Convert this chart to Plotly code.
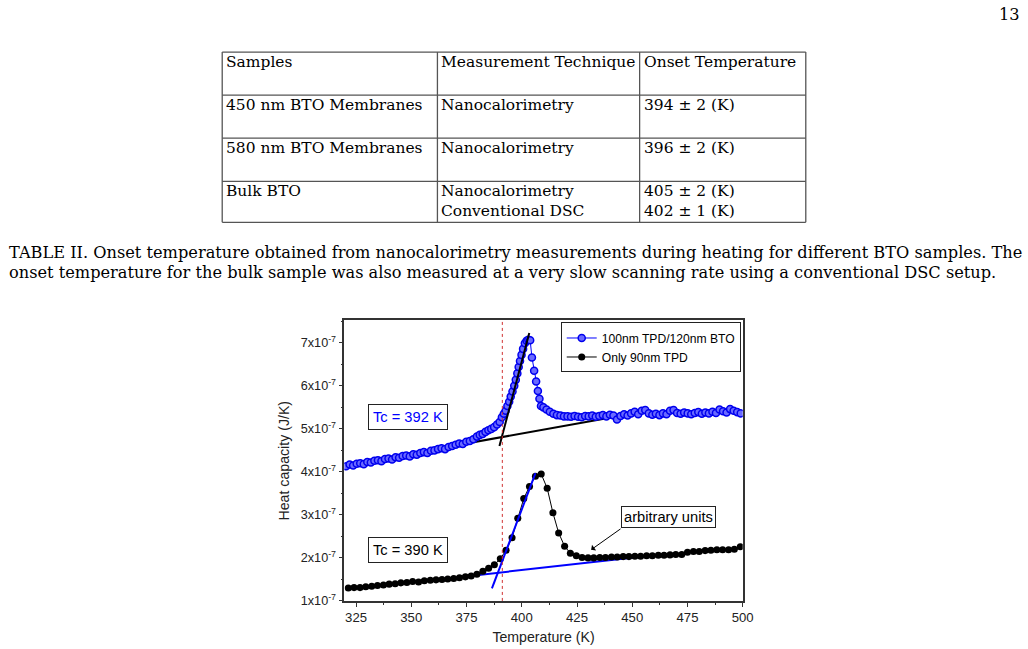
import plotly.graph_objects as go

# ---------------- data ----------------
table_header = ["Samples", "Measurement Technique", "Onset Temperature"]
table_samples = ["450 nm BTO Membranes", "580 nm BTO Membranes", "Bulk BTO"]
table_technique = ["Nanocalorimetry", "Nanocalorimetry", "Nanocalorimetry<br>Conventional DSC"]
table_onset = ["394 ± 2 (K)", "396 ± 2 (K)", "405 ± 2 (K)<br>402 ± 1 (K)"]

caption_line1 = ("TABLE II. Onset temperature obtained from nanocalorimetry measurements during heating "
                 "for different BTO samples. The")
caption_line2 = ("onset temperature for the bulk sample was also measured at a very slow scanning rate "
                 "using a conventional DSC setup.")
page_number = "13"

# 100nm TPD/120nm BTO  (heat capacity in units of 1e-7 J/K)
bto_T = [320.5, 322.1, 323.7, 325.3, 326.9, 328.5, 330.1, 331.7, 333.3, 334.9, 336.5, 338.1,
         339.7, 341.3, 342.9, 344.5, 346.1, 347.7, 349.3, 350.9, 352.5, 354.1, 355.7, 357.3,
         358.9, 360.5, 362.1, 363.7, 365.3, 366.9, 368.5, 370.1, 371.7, 373.3, 374.9, 376.5,
         378.1, 379.7, 381.0, 382.3, 383.6, 384.9, 386.2, 387.5, 388.8, 390.0, 391.0, 391.9,
         392.7, 393.5, 394.3, 395.0, 395.8, 396.6, 397.3, 398.0, 398.6, 399.2, 399.9, 400.6,
         401.4, 402.2, 403.0, 403.8, 404.6, 405.6, 406.5, 407.3, 408.0, 408.7, 409.8, 411.2,
         412.7, 414.3, 415.9, 417.5, 419.1, 420.7, 422.3, 423.9, 425.5, 427.1, 428.7, 430.3,
         431.9, 433.5, 435.1, 436.7, 438.3, 439.9, 441.5, 443.1, 444.7, 446.3, 447.9, 449.5,
         451.1, 452.7, 454.3, 455.9, 457.5, 459.1, 460.7, 462.3, 463.9, 465.5, 467.1, 468.7,
         470.3, 471.9, 473.5, 475.1, 476.7, 478.3, 479.9, 481.5, 483.1, 484.7, 486.3, 487.9,
         489.5, 491.1, 492.7, 494.3, 495.9, 497.5, 499.1]
bto_C = [4.13, 4.17, 4.15, 4.19, 4.20, 4.18, 4.23, 4.22, 4.26, 4.27, 4.25, 4.30,
         4.31, 4.29, 4.34, 4.33, 4.37, 4.38, 4.36, 4.41, 4.40, 4.44, 4.46, 4.44,
         4.49, 4.50, 4.53, 4.55, 4.53, 4.58, 4.60, 4.63, 4.66, 4.65, 4.70, 4.72,
         4.76, 4.82, 4.86, 4.88, 4.93, 4.97, 5.00, 5.04, 5.10, 5.16, 5.27, 5.35,
         5.42, 5.53, 5.63, 5.75, 5.87, 6.00, 6.14, 6.29, 6.44, 6.58, 6.72, 6.86,
         6.99, 7.05, 7.07, 7.06, 6.66, 6.35, 6.10, 5.88, 5.70, 5.53, 5.50, 5.45,
         5.40, 5.35, 5.32, 5.31, 5.29, 5.29, 5.28, 5.30, 5.28, 5.27, 5.30, 5.29,
         5.31, 5.28, 5.30, 5.32, 5.29, 5.33, 5.31, 5.22, 5.30, 5.34, 5.31, 5.36,
         5.40, 5.34, 5.42, 5.44, 5.36, 5.33, 5.35, 5.32, 5.36, 5.34, 5.42, 5.44,
         5.37, 5.35, 5.38, 5.36, 5.34, 5.37, 5.39, 5.35, 5.38, 5.36, 5.40, 5.37,
         5.45, 5.41, 5.38, 5.46, 5.42, 5.39, 5.36]

# Only 90nm TPD (units of 1e-7 J/K)
tpd_T = [321.5, 324.1, 326.8, 329.4, 332.1, 334.7, 337.4, 340.0, 342.7, 345.3, 348.0, 350.6,
         353.3, 355.9, 358.6, 361.2, 363.9, 366.5, 369.2, 371.8, 374.5, 377.1, 379.7, 382.4,
         385.0, 387.6, 390.3, 392.9, 395.6, 398.2, 400.9, 403.5, 406.2, 408.8, 411.5, 414.1,
         416.7, 419.4, 422.0, 424.7, 427.3, 430.0, 432.6, 435.3, 437.9, 440.6, 443.2, 445.9,
         448.5, 451.2, 453.8, 456.5, 459.1, 461.8, 464.4, 467.1, 469.7, 472.4, 475.0, 477.7,
         480.3, 483.0, 485.6, 488.3, 490.9, 493.6, 496.2, 498.9]
tpd_C = [1.30, 1.31, 1.31, 1.33, 1.34, 1.36, 1.37, 1.39, 1.40, 1.42, 1.43, 1.45,
         1.44, 1.47, 1.48, 1.49, 1.50, 1.51, 1.52, 1.54, 1.56, 1.58, 1.62, 1.69,
         1.76, 1.84, 1.98, 2.18, 2.47, 2.92, 3.38, 3.66, 3.90, 3.95, 3.62, 3.05,
         2.58, 2.27, 2.11, 2.05, 2.01, 2.00, 2.00, 2.01, 2.01, 2.02, 2.02, 2.03,
         2.03, 2.04, 2.04, 2.05, 2.05, 2.06, 2.06, 2.07, 2.08, 2.08, 2.13, 2.15,
         2.15, 2.17, 2.18, 2.19, 2.19, 2.19, 2.20, 2.26]

# tangent (onset) construction lines, units of 1e-7 J/K
bto_base_T = [322.7, 444.2]
bto_base_C = [4.18, 5.30]
bto_rise_T = [389.9, 403.4]
bto_rise_C = [4.60, 7.23]
tpd_base_T = [331.0, 463.0]
tpd_base_C = [1.32, 2.08]
tpd_rise_T = [386.5, 406.2]
tpd_rise_C = [1.29, 3.97]
onset_line_T = 391.2

SCALE = 1e-7
def sc(v):
    return [c * SCALE for c in v]

# target page is 1028 x 649; the photographed page comes out ~1.2 % smaller, so
# lay everything out on a slightly enlarged canvas with the same proportions.
TW, TH = 1028, 649
K = 1.012
W, H = round(TW * K), round(TH * K)

def f(s):
    return s * K

serif = "DejaVu Serif"
sans = "Liberation Sans, Arial, sans-serif"
SERIF_SIZE = f(16)
TABLE_SIZE = f(15.3)

def px(x):
    return x / TW

def py(y):
    return 1 - y / TH

fig = go.Figure()

# ---------------- chart ----------------
fig.add_trace(go.Scatter(x=bto_base_T, y=sc(bto_base_C), mode="lines",
                         line=dict(color="black", width=2), showlegend=False, hoverinfo="skip"))
fig.add_trace(go.Scatter(x=tpd_base_T, y=sc(tpd_base_C), mode="lines",
                         line=dict(color="#0000ff", width=2), showlegend=False, hoverinfo="skip"))
fig.add_trace(go.Scatter(x=bto_T, y=sc(bto_C), mode="lines+markers", name="100nm TPD/120nm BTO",
                         line=dict(color="#0000ff", width=1),
                         marker=dict(symbol="circle", size=f(7), color="#6a6aff",
                                     line=dict(color="#0000ee", width=1.5))))
fig.add_trace(go.Scatter(x=tpd_T, y=sc(tpd_C), mode="lines+markers", name="Only 90nm TPD",
                         line=dict(color="black", width=1),
                         marker=dict(symbol="circle", size=f(7), color="black")))
fig.add_trace(go.Scatter(x=bto_rise_T, y=sc(bto_rise_C), mode="lines",
                         line=dict(color="black", width=2), showlegend=False, hoverinfo="skip"))
fig.add_trace(go.Scatter(x=tpd_rise_T, y=sc(tpd_rise_C), mode="lines",
                         line=dict(color="#0000ff", width=2), showlegend=False, hoverinfo="skip"))

fig.add_vline(x=onset_line_T, line=dict(color="#d03030", width=1, dash="3px,3px"))

ytick_vals = [1, 2, 3, 4, 5, 6, 7]
fig.update_layout(
    width=W, height=H, margin=dict(l=0, r=0, t=0, b=0),
    paper_bgcolor="white", plot_bgcolor="white",
    font=dict(family=sans, color="#222"),
    xaxis=dict(domain=[px(344), px(742)], range=[319.7, 500], tickmode="linear", tick0=325, dtick=25,
               showgrid=False, zeroline=False, showline=True, linecolor="#333", linewidth=1.5,
               mirror=True, ticks="outside", ticklen=4, tickcolor="#333", tickfont=dict(size=f(13)),
               minor=dict(ticks="outside", ticklen=2, tick0=312.5, dtick=12.5, tickcolor="#333"),
               title=dict(text="Temperature (K)", font=dict(size=f(14)), standoff=8)),
    yaxis=dict(domain=[py(600), py(320)], range=[1e-7, 7.52e-7],
               tickmode="array", tickvals=sc(ytick_vals),
               ticktext=[f"{v}x10<sup>-7</sup>" for v in ytick_vals],
               showgrid=False, zeroline=False, showline=True, linecolor="#333", linewidth=1.5,
               mirror=True, ticks="outside", ticklen=4, tickcolor="#333", tickfont=dict(size=f(12.5)),
               minor=dict(ticks="outside", ticklen=2, tick0=0.5e-7, dtick=0.5e-7, tickcolor="#333"),
               title=dict(text="Heat capacity (J/K)", font=dict(size=f(14)), standoff=8)),
    legend=dict(x=px(740), xanchor="right", y=py(322), yanchor="top",
                bgcolor="white", bordercolor="#222", borderwidth=1,
                font=dict(size=f(12), color="black"), tracegroupgap=0,
                itemwidth=30),
)

# ---------------- chart annotations ----------------
fig.add_annotation(x=348.5, y=5.28e-7, xref="x", yref="y", text="Tc = 392 K", showarrow=False,
                   font=dict(size=f(14.5), color="#0000ff", family=sans), bgcolor="white",
                   bordercolor="#222", borderwidth=1, borderpad=4)
fig.add_annotation(x=348.5, y=2.19e-7, xref="x", yref="y", text="Tc = 390 K", showarrow=False,
                   font=dict(size=f(14.5), color="black", family=sans), bgcolor="white",
                   bordercolor="#222", borderwidth=1, borderpad=4)
fig.add_annotation(x=466.5, y=2.96e-7, xref="x", yref="y", text="arbitrary units", showarrow=False,
                   font=dict(size=f(14.5), color="black", family=sans), bgcolor="white",
                   bordercolor="#222", borderwidth=1, borderpad=2)
fig.add_annotation(x=431.4, y=2.19e-7, xref="x", yref="y", ax=445.4, ay=2.70e-7,
                   axref="x", ayref="y", text="", showarrow=True,
                   arrowhead=1, arrowsize=1.2, arrowwidth=1, arrowcolor="black")

# ---------------- table (page element) ----------------
col_edges = [222, 437, 639, 805]
row_edges = [52, 95, 138, 181, 222]
table_rows = [table_header] + [list(r) for r in zip(table_samples, table_technique, table_onset)]
line_style = dict(color="#555", width=1.3)
for yy in row_edges:
    fig.add_shape(type="line", xref="paper", yref="paper", x0=px(col_edges[0]), x1=px(col_edges[-1]),
                  y0=py(yy), y1=py(yy), line=line_style)
for xx in col_edges:
    fig.add_shape(type="line", xref="paper", yref="paper", x0=px(xx), x1=px(xx),
                  y0=py(row_edges[0]), y1=py(row_edges[-1]), line=line_style)
for r, row in enumerate(table_rows):
    for c, cell in enumerate(row):
        for k, line_text in enumerate(cell.split("<br>")):
            fig.add_annotation(x=px(col_edges[c] + 2), y=py(row_edges[r] + 10 + 20 * k),
                               xref="paper", yref="paper", xanchor="left", yanchor="middle",
                               text=line_text, showarrow=False,
                               font=dict(family=serif, size=TABLE_SIZE, color="black"))

# ---------------- caption & page number ----------------
fig.add_annotation(x=px(7), y=py(252), xref="paper", yref="paper", xanchor="left", yanchor="middle",
                   text=caption_line1, showarrow=False,
                   font=dict(family=serif, size=SERIF_SIZE, color="black"))
fig.add_annotation(x=px(7), y=py(272), xref="paper", yref="paper", xanchor="left", yanchor="middle",
                   text=caption_line2, showarrow=False,
                   font=dict(family=serif, size=SERIF_SIZE, color="black"))
fig.add_annotation(x=px(1021), y=py(14), xref="paper", yref="paper", xanchor="right", yanchor="middle",
                   text=page_number, showarrow=False,
                   font=dict(family=serif, size=SERIF_SIZE, color="black"))

fig.write_html("out.html")
